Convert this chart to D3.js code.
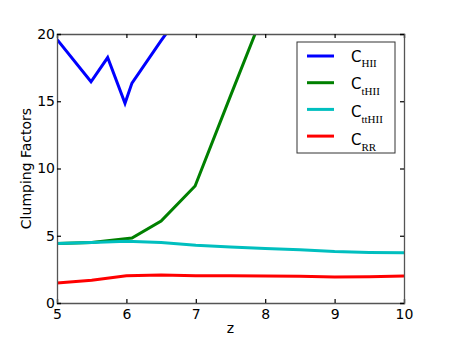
<!DOCTYPE html>
<html><head><meta charset="utf-8">
<script src="https://cdn.jsdelivr.net/npm/d3@7"></script>
<style>body{margin:0;background:#fff}svg{display:block}</style>
</head><body>
<svg id="c" width="450" height="338"></svg>
<script>
const cHII = [[5,19.6],[5.49,16.45],[5.73,18.25],[5.98,14.85],[6.08,16.35],[6.5,19.5],[7,23.1]];
const cTHII = [[5,4.42],[5.5,4.5],[6.08,4.83],[6.5,6.1],[6.99,8.7],[7.5,15.4],[8,21.9]];
const cTTHII = [[5,4.42],[5.5,4.5],[6,4.6],[6.5,4.5],[7,4.3],[7.5,4.16],[8,4.05],[8.5,3.95],[9,3.82],[9.5,3.76],[10,3.74]];
const cRR = [[5,1.49],[5.5,1.7],[6,2.02],[6.5,2.08],[7,2.03],[7.5,2.02],[8,2.0],[8.5,1.98],[9,1.94],[9.5,1.96],[10,2.0]];
const seriesNames = ["HII","tHII","ttHII","RR"];
const seriesColors = ["#0000ff","#008000","#00bfbf","#ff0000"];
const seriesData = [cHII,cTHII,cTTHII,cRR];
const xTicks = [5,6,7,8,9,10];
const yTicks = [0,5,10,15,20];

const svg = d3.select("#c");
const L=57,R=404,T=34,B=303;
const x = d3.scaleLinear().domain([5,10]).range([L,R]);
const y = d3.scaleLinear().domain([0,20]).range([B,T]);

svg.append("clipPath").attr("id","clip").append("rect").attr("x",L).attr("y",T).attr("width",R-L).attr("height",B-T);

const line = d3.line().x(d=>x(d[0])).y(d=>y(d[1]));
const g = svg.append("g").attr("clip-path","url(#clip)");
seriesData.forEach((s,i)=>{
  g.append("path").datum(s).attr("d",line).attr("fill","none")
   .attr("stroke",seriesColors[i]).attr("stroke-width",3).attr("stroke-linejoin","miter");
});

const font = "DejaVu Sans";
const ax = svg.append("g").attr("transform",`translate(0,${B})`)
  .call(d3.axisBottom(x).tickValues(xTicks).tickSize(-4).tickPadding(6).tickFormat(d3.format("d")));
const axT = svg.append("g").attr("transform",`translate(0,${T})`)
  .call(d3.axisTop(x).tickValues(xTicks).tickSize(-4).tickFormat(""));
const ay = svg.append("g").attr("transform",`translate(${L},0)`)
  .call(d3.axisLeft(y).tickValues(yTicks).tickSize(-4).tickPadding(6).tickFormat(d3.format("d")));
const ayR = svg.append("g").attr("transform",`translate(${R},0)`)
  .call(d3.axisRight(y).tickValues(yTicks).tickSize(-4).tickFormat(""));
[ax,axT,ay,ayR].forEach(a=>{
  a.select(".domain").attr("stroke","#555").attr("stroke-width",1.3);
  a.selectAll(".tick line").attr("stroke","#000").attr("stroke-width",1.2);
  a.selectAll("text").attr("font-family",font).attr("font-size",14).attr("fill","#000");
});
ay.selectAll("text").attr("dx",4);

svg.append("text").attr("x",(L+R)/2).attr("y",333).attr("text-anchor","middle")
  .attr("font-family",font).attr("font-size",14).text("z");
svg.append("text").attr("transform",`translate(31,${(T+B)/2}) rotate(-90)`).attr("text-anchor","middle")
  .attr("font-family",font).attr("font-size",14).text("Clumping Factors");

// legend
const lg = svg.append("g");
lg.append("rect").attr("x",297).attr("y",42).attr("width",98).attr("height",111)
  .attr("fill","#fff").attr("stroke","#333").attr("stroke-width",1);
const textBase = [61.7,89.3,117,145];
seriesNames.forEach((n,i)=>{
  const yy = 56 + i*26.7;
  lg.append("line").attr("x1",307).attr("x2",334).attr("y1",yy).attr("y2",yy)
    .attr("stroke",seriesColors[i]).attr("stroke-width",3);
  const t = lg.append("text").attr("x",351).attr("y",textBase[i]).attr("font-family",font).attr("font-size",15);
  t.append("tspan").text("C");
  t.append("tspan").attr("font-family","Liberation Serif").attr("font-size",11).attr("dy",5.5).text(n);
});
</script>
</body></html>
